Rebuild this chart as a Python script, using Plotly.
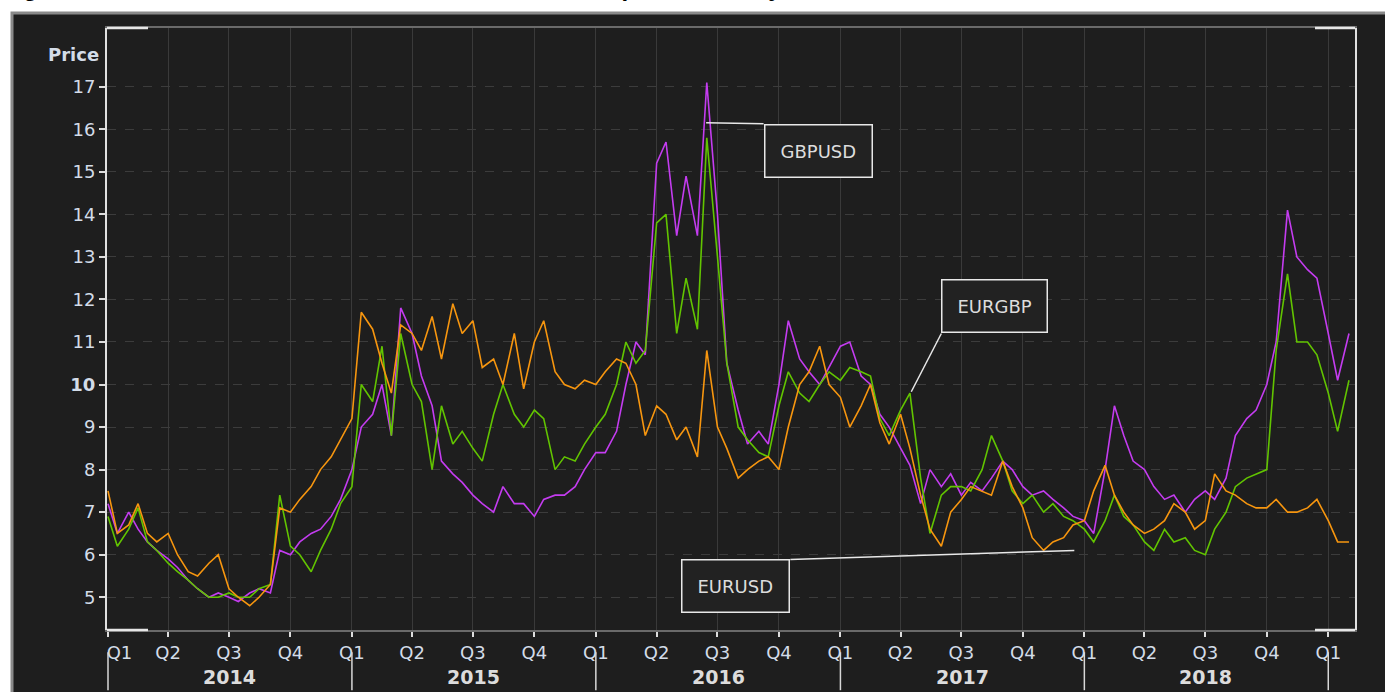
import pandas as pd
import plotly.graph_objects as go

# ---------------- data ----------------
dates = pd.date_range("2014-01-01", periods=123, freq="SMS")

gbpusd = [7.2, 6.5, 7.0, 6.6, 6.3, 6.1, 5.9, 5.7, 5.4, 5.2, 5.0, 5.1, 5.0, 4.9, 5.1, 5.2, 5.1, 6.1, 6.0, 6.3,
          6.5, 6.6, 6.9, 7.3, 8.0, 9.0, 9.3, 10.0, 8.8, 11.8, 11.2, 10.2, 9.5, 8.2, 7.9, 7.7, 7.4, 7.2, 7.0, 7.6,
          7.2, 7.2, 6.9, 7.3, 7.4, 7.4, 7.6, 8.0, 8.4, 8.4, 8.9, 10.0, 11.0, 10.7, 15.2, 15.7, 13.5, 14.9, 13.5, 17.1,
          14.0, 10.5, 9.4, 8.6, 8.9, 8.6, 10.0, 11.5, 10.6, 10.3, 10.0, 10.4, 10.9, 11.0, 10.2, 10.0, 9.3, 9.0, 8.5, 8.1,
          7.2, 8.0, 7.6, 7.9, 7.4, 7.7, 7.5, 7.8, 8.2, 8.0, 7.6, 7.4, 7.5, 7.3, 7.1, 6.9, 6.8, 6.5, 8.0, 9.5,
          8.8, 8.2, 8.0, 7.6, 7.3, 7.4, 7.0, 7.3, 7.5, 7.3, 7.8, 8.8, 9.2, 9.4, 10.0, 11.0, 14.1, 13.0, 12.7, 12.5,
          11.2, 10.1, 11.2]

eurgbp = [6.9, 6.2, 6.6, 7.1, 6.3, 6.1, 5.8, 5.6, 5.4, 5.2, 5.0, 5.0, 5.1, 5.0, 5.0, 5.2, 5.3, 7.4, 6.2, 6.0,
          5.6, 6.1, 6.6, 7.2, 7.6, 10.0, 9.6, 10.9, 8.8, 11.2, 10.0, 9.6, 8.0, 9.5, 8.6, 8.9, 8.5, 8.2, 9.3, 10.0,
          9.3, 9.0, 9.4, 9.2, 8.0, 8.3, 8.2, 8.6, 9.0, 9.3, 10.0, 11.0, 10.5, 10.8, 13.8, 14.0, 11.2, 12.5, 11.3, 15.8,
          13.0, 10.5, 9.0, 8.7, 8.4, 8.3, 9.5, 10.3, 9.8, 9.6, 10.0, 10.3, 10.1, 10.4, 10.3, 10.2, 9.2, 8.8, 9.4, 9.8,
          7.8, 6.5, 7.4, 7.6, 7.6, 7.5, 8.0, 8.8, 8.2, 7.5, 7.2, 7.4, 7.0, 7.2, 6.9, 6.8, 6.6, 6.3, 6.8, 7.4,
          6.9, 6.7, 6.3, 6.1, 6.6, 6.3, 6.4, 6.1, 6.0, 6.6, 7.0, 7.6, 7.8, 7.9, 8.0, 10.8, 12.6, 11.0, 11.0, 10.7,
          9.8, 8.9, 10.1]

eurusd = [7.5, 6.5, 6.7, 7.2, 6.5, 6.3, 6.5, 6.0, 5.6, 5.5, 5.8, 6.0, 5.2, 5.0, 4.8, 5.0, 5.3, 7.1, 7.0, 7.3,
          7.6, 8.0, 8.3, 8.7, 9.2, 11.7, 11.3, 10.5, 9.8, 11.4, 11.2, 10.8, 11.6, 10.6, 11.9, 11.2, 11.5, 10.4, 10.6, 10.0,
          11.2, 9.9, 11.0, 11.5, 10.3, 10.0, 9.9, 10.1, 10.0, 10.3, 10.6, 10.5, 10.0, 8.8, 9.5, 9.3, 8.7, 9.0, 8.3, 10.8,
          9.0, 8.5, 7.8, 8.0, 8.2, 8.3, 8.0, 9.0, 10.0, 10.3, 10.9, 10.0, 9.7, 9.0, 9.5, 10.0, 9.1, 8.6, 9.3, 8.5,
          7.4, 6.6, 6.2, 7.0, 7.3, 7.6, 7.5, 7.4, 8.2, 7.6, 7.1, 6.4, 6.1, 6.3, 6.4, 6.7, 6.8, 7.5, 8.1, 7.4,
          7.0, 6.7, 6.5, 6.6, 6.8, 7.2, 7.0, 6.6, 6.8, 7.9, 7.5, 7.4, 7.2, 7.1, 7.1, 7.3, 7.0, 7.0, 7.1, 7.3,
          6.8, 6.3, 6.3]

series_names = ["GBPUSD", "EURGBP", "EURUSD"]
series_colors = ["#c43cf0", "#62c400", "#f7960f"]

quarter_ticks = pd.date_range("2014-01-01", "2019-01-01", freq="QS")
quarter_labels = ["Q%d" % q.quarter for q in quarter_ticks]
quarter_labels[0] = "\u00a0\u00a0\u00a0\u00a0Q1"   # first label sits against the axis
years = [2014, 2015, 2016, 2017, 2018]
y_ticks = list(range(5, 18))
y_labels = ["<b>10</b>" if v == 10 else str(v) for v in y_ticks]

title_text = "Figure 3: EURUSD, GBPUSD and EURGBP 1-month implied volatility"

# callout labels: (name, point date, point value, box corner date, box corner value, xanchor, yanchor)
callouts = [
    ("GBPUSD", "2016-06-14", 16.15, "2016-09-08", 16.13, "left", "top"),
    ("EURGBP", "2017-04-17", 9.83, "2017-06-01", 11.2, "left", "bottom"),
    ("EURUSD", "2017-12-17", 6.10, "2016-10-18", 5.89, "right", "top"),
]

# ---------------- figure ----------------
fig = go.Figure()
for name, vals, col in zip(series_names, [gbpusd, eurgbp, eurusd], series_colors):
    fig.add_trace(go.Scatter(x=dates, y=vals, mode="lines", name=name,
                             line=dict(color=col, width=1.6)))

tick_font = dict(family="DejaVu Sans", size=18, color="#d3dce8")

fig.update_layout(
    width=1385, height=692,
    margin=dict(l=107, r=30, t=28, b=62),
    paper_bgcolor="white",
    plot_bgcolor="#232323",
    showlegend=False,
    xaxis=dict(
        type="date",
        range=["2013-12-30 12:00", "2019-02-10"],
        tickvals=list(quarter_ticks), ticktext=quarter_labels,
        ticks="outside", ticklen=5, tickcolor="#dddddd", tickwidth=1.5,
        tickfont=tick_font,
        showgrid=True, gridcolor="#3a3a3a", gridwidth=1,
        showline=True, linecolor="#6a6a6a", linewidth=2, mirror=True,
        zeroline=False,
    ),
    yaxis=dict(
        range=[4.23, 18.38],
        tickvals=y_ticks, ticktext=y_labels,
        ticks="outside", ticklen=6, tickcolor="#dddddd", tickwidth=1.5,
        tickfont=tick_font,
        showgrid=True, gridcolor="#3c3c3c", gridwidth=1, griddash="dash",
        showline=True, linecolor="#e0e0e0", linewidth=2, mirror=True,
        zeroline=False,
    ),
)

shapes = []
# dark outer panel
shapes.append(dict(type="rect", xref="paper", yref="paper",
                   x0=(12 - 107) / 1248, x1=(1390 - 107) / 1248,
                   y0=(630 - 700) / 602, y1=(630 - 13) / 602,
                   fillcolor="#1e1e1e", line=dict(color="#8a8a8a", width=3), layer="below"))
# white corner highlights on top/bottom borders
for (xa, xb) in [(0, 41 / 1248), (1 - 40 / 1248, 1)]:
    for yy in [0, 1]:
        shapes.append(dict(type="line", xref="paper", yref="paper", x0=xa, x1=xb, y0=yy, y1=yy,
                           line=dict(color="#e6e6e6", width=2.5)))
# year separators
for y in years + [2019]:
    shapes.append(dict(type="line", xref="x", yref="paper", x0=f"{y}-01-01", x1=f"{y}-01-01",
                       y0=-0.037, y1=-0.1, line=dict(color="#d8d8d8", width=1.5)))
# callout connectors
for name, px, pv, bx, bv, xa, ya in callouts:
    shapes.append(dict(type="line", xref="x", yref="y", x0=px, y0=pv, x1=bx, y1=bv,
                       line=dict(color="#e8e8e8", width=1.5)))
fig.update_layout(shapes=shapes)

annotations = []
for y in years:
    annotations.append(dict(x=f"{y}-07-02", y=-0.078, xref="x", yref="paper", text=f"<b>{y}</b>",
                            showarrow=False, font=dict(family="DejaVu Sans", size=19, color="#dcdcdc"),
                            yanchor="middle"))
annotations.append(dict(x=0, y=0.977, xref="paper", yref="paper", text="<b>Price</b>", xanchor="right",
                        xshift=-6, showarrow=False, font=dict(family="DejaVu Sans", size=18, color="#d3dce8")))
for name, px, pv, bx, bv, xa, ya in callouts:
    annotations.append(dict(x=bx, y=bv, xref="x", yref="y", text=name, showarrow=False,
                            xanchor=xa, yanchor=ya, bgcolor="#222222", bordercolor="#e8e8e8",
                            borderwidth=1.5, borderpad=15,
                            font=dict(family="DejaVu Sans", size=18, color="#dddddd")))
annotations.append(dict(x=(0 - 107) / 1248, y=(630 - 3) / 602, xref="paper", yref="paper",
                        text=f"<b>{title_text}</b>", showarrow=False, xanchor="left", yanchor="bottom",
                        font=dict(family="Liberation Sans", size=24, color="black")))
fig.update_layout(annotations=annotations)

fig.write_html("out.html", config={"displayModeBar": False},
               post_script="document.body.style.margin='0';document.body.style.overflow='hidden';")
